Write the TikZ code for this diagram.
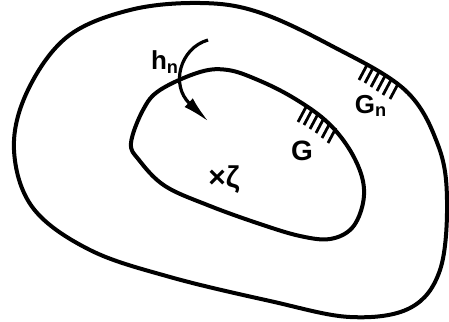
\documentclass[tikz,border=0pt]{standalone}
\usepackage{fontspec}
\setmainfont{Liberation Sans}
\usepackage{tikz}
\usetikzlibrary{arrows.meta}
\tikzset{
 rim/.style={black, line width=2pt, line join=round},
 hatch/.style={black, line width=1.4pt},
 lbl/.style={inner sep=0pt, font=\fontsize{13}{15}\selectfont\bfseries}
}
\begin{document}
\begin{tikzpicture}[x=0.5pt,y=-0.5pt]
\useasboundingbox (0,0) rectangle (449,321);
\draw[rim] plot[smooth cycle, tension=0.6] coordinates {(14,150) (27,92) (67,37) (130,10) (200,3) (258,12) (330,45) (405,90) (438,145) (447,200) (440,270) (410,308) (350,317) (270,301) (170,277) (90,250) (33,208)};
\draw[rim] plot[smooth cycle, tension=0.6] coordinates {(131,143) (143,110) (160,90) (200,72) (228,70) (258,80) (292,97) (325,120) (348,147) (362,177) (363,203) (352,228) (330,239) (300,236) (260,224) (210,206) (165,186) (139,160)};
\foreach \x/\y in {306/107, 312/110, 318/114, 324/118, 330/123, 336/128} {
 \draw[hatch] (\x,\y) --++(-8,15);
};
\foreach \x/\y in {367/65, 373/68, 379/72, 385/76, 391/80, 398/84} {
 \draw[hatch] (\x,\y) --++(-8,15);
};
\coordinate (hs) at (208,40);
\coordinate (ht) at (209,122);
\draw[black, line width=1.6pt, -{Latex[length=14pt,width=6pt]}] (hs) .. controls (180,48) and (170,85) .. (ht);
\node[lbl] (hn) at (165,62) {h\textsubscript{n}};
\node[lbl, font=\fontsize{14}{16}\selectfont\bfseries] (g) at (302,151) {G};
\node[lbl] (gn) at (371,106) {G\textsubscript{n}};
\node[lbl, font=\fontsize{15}{17}\selectfont\bfseries] (zeta) at (224,180) {×ζ};
\end{tikzpicture}
\end{document}
